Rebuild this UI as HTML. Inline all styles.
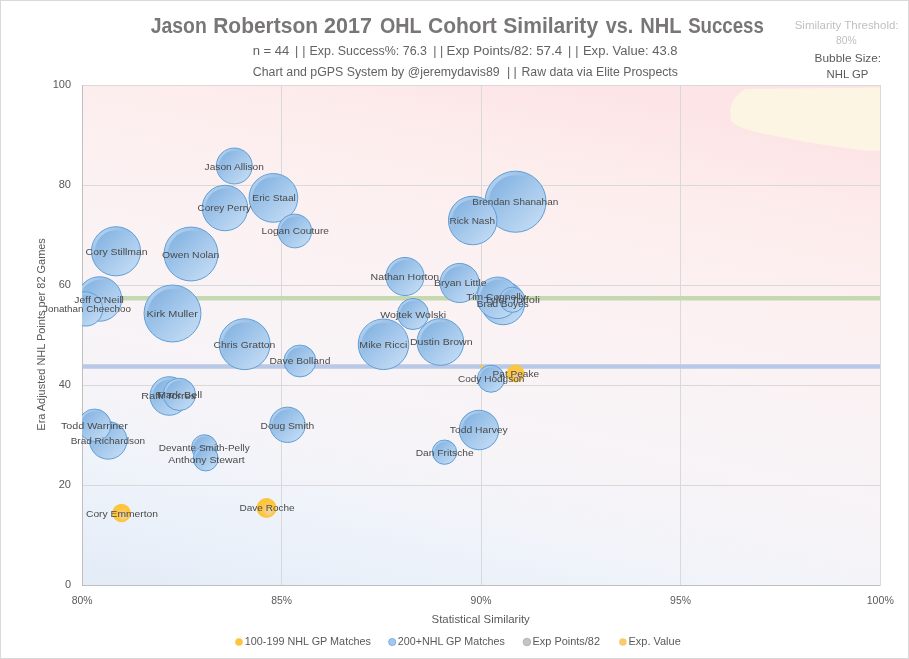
<!DOCTYPE html>
<html><head><meta charset="utf-8"><style>
html,body{margin:0;padding:0;background:#fff;}
svg{display:block;}
text{font-family:"Liberation Sans", Arial, sans-serif;}
</style></head><body>
<svg width="909" height="659" viewBox="0 0 909 659">
<defs>
<linearGradient id="bg" gradientUnits="userSpaceOnUse" x1="880" y1="85" x2="741.1" y2="713.3">
<stop offset="0.0000" stop-color="#fde2e4"/>
<stop offset="0.1071" stop-color="#fde5e7"/>
<stop offset="0.2411" stop-color="#fdeded"/>
<stop offset="0.4018" stop-color="#fcf1f2"/>
<stop offset="0.5536" stop-color="#f9f3f5"/>
<stop offset="0.7143" stop-color="#f6f4f8"/>
<stop offset="0.8304" stop-color="#eff3fa"/>
<stop offset="0.9375" stop-color="#e9f0f9"/>
<stop offset="1.0000" stop-color="#e4ecf8"/>
</linearGradient>
<linearGradient id="bub" x1="0.15" y1="0.15" x2="0.85" y2="0.85">
<stop offset="0" stop-color="#84b3e1"/>
<stop offset="0.5" stop-color="#a3c7eb"/>
<stop offset="1" stop-color="#bfd9f3"/>
</linearGradient>
<linearGradient id="rim" x1="0.1" y1="0.1" x2="0.6" y2="0.6">
<stop offset="0" stop-color="#c2daf3" stop-opacity="0.8"/>
<stop offset="0.55" stop-color="#c2daf3" stop-opacity="0"/>
</linearGradient>
<radialGradient id="yel" cx="0.5" cy="0.5" r="0.5" fx="0.68" fy="0.74">
<stop offset="0" stop-color="#f3d39e"/>
<stop offset="0.35" stop-color="#f6cd7e"/>
<stop offset="0.6" stop-color="#fbc746"/>
<stop offset="1" stop-color="#fdc535"/>
</radialGradient>
<filter id="soft" x="-10%" y="-10%" width="120%" height="120%"><feGaussianBlur stdDeviation="0.6"/></filter>
<clipPath id="plot"><rect x="82" y="85" width="798" height="500"/></clipPath>
</defs>
<rect x="0.5" y="0.5" width="908" height="658" fill="#fff" stroke="#d9d9d9" stroke-width="1"/>

<rect x="82" y="85" width="798" height="500" fill="url(#bg)"/>
<path d="M745,89 L880,87.5 L880,150.5 L872,151 L867,150.7 L846,148 L825,145 L805,141.7 L784,137.5 L769,134.8 L749,130.2 L737,125.5 L731,121 L730.3,111 Q731,99 741.8,91.2 Z" fill="#fdf5e3"/>
<line x1="281.5" y1="85" x2="281.5" y2="585" stroke="#d9d9d9" stroke-width="1"/>
<line x1="481.5" y1="85" x2="481.5" y2="585" stroke="#d9d9d9" stroke-width="1"/>
<line x1="680.5" y1="85" x2="680.5" y2="585" stroke="#d9d9d9" stroke-width="1"/>
<line x1="880.5" y1="85" x2="880.5" y2="585" stroke="#d9d9d9" stroke-width="1"/>
<line x1="82" y1="85.5" x2="880" y2="85.5" stroke="#d9d9d9" stroke-width="1"/>
<line x1="82" y1="185.5" x2="880" y2="185.5" stroke="#d9d9d9" stroke-width="1"/>
<line x1="82" y1="285.5" x2="880" y2="285.5" stroke="#d9d9d9" stroke-width="1"/>
<line x1="82" y1="385.5" x2="880" y2="385.5" stroke="#d9d9d9" stroke-width="1"/>
<line x1="82" y1="485.5" x2="880" y2="485.5" stroke="#d9d9d9" stroke-width="1"/>
<line x1="82.5" y1="85" x2="82.5" y2="585.5" stroke="#bfbfbf" stroke-width="1"/>
<line x1="82" y1="585.5" x2="880.5" y2="585.5" stroke="#bfbfbf" stroke-width="1"/>
<line x1="83" y1="298.3" x2="880" y2="298.3" stroke="#c5d9b1" stroke-width="4.5"/>
<line x1="83" y1="366.4" x2="880" y2="366.4" stroke="#b8c8e6" stroke-width="4.5"/>
<g clip-path="url(#plot)">
<circle cx="99.5" cy="299.0" r="22.25" fill="url(#bub)" stroke="#5f9ed7" stroke-width="1"/>
<circle cx="99.5" cy="299.0" r="20.35" fill="none" stroke="url(#rim)" stroke-width="2.70" filter="url(#soft)"/>
<circle cx="85.7" cy="309.0" r="17.05" fill="url(#bub)" stroke="#5f9ed7" stroke-width="1"/>
<circle cx="85.7" cy="309.0" r="15.46" fill="none" stroke="url(#rim)" stroke-width="2.08" filter="url(#soft)"/>
<circle cx="116.0" cy="251.3" r="24.55" fill="url(#bub)" stroke="#5f9ed7" stroke-width="1"/>
<circle cx="116.0" cy="251.3" r="22.51" fill="none" stroke="url(#rim)" stroke-width="2.98" filter="url(#soft)"/>
<circle cx="191.0" cy="254.0" r="26.95" fill="url(#bub)" stroke="#5f9ed7" stroke-width="1"/>
<circle cx="191.0" cy="254.0" r="24.77" fill="none" stroke="url(#rim)" stroke-width="3.26" filter="url(#soft)"/>
<circle cx="172.5" cy="313.5" r="28.45" fill="url(#bub)" stroke="#5f9ed7" stroke-width="1"/>
<circle cx="172.5" cy="313.5" r="26.18" fill="none" stroke="url(#rim)" stroke-width="3.44" filter="url(#soft)"/>
<circle cx="234.3" cy="166.0" r="17.95" fill="url(#bub)" stroke="#5f9ed7" stroke-width="1"/>
<circle cx="234.3" cy="166.0" r="16.31" fill="none" stroke="url(#rim)" stroke-width="2.18" filter="url(#soft)"/>
<circle cx="225.0" cy="208.0" r="22.75" fill="url(#bub)" stroke="#5f9ed7" stroke-width="1"/>
<circle cx="225.0" cy="208.0" r="20.82" fill="none" stroke="url(#rim)" stroke-width="2.76" filter="url(#soft)"/>
<circle cx="273.4" cy="197.9" r="24.35" fill="url(#bub)" stroke="#5f9ed7" stroke-width="1"/>
<circle cx="273.4" cy="197.9" r="22.32" fill="none" stroke="url(#rim)" stroke-width="2.95" filter="url(#soft)"/>
<circle cx="294.8" cy="231.0" r="16.85" fill="url(#bub)" stroke="#5f9ed7" stroke-width="1"/>
<circle cx="294.8" cy="231.0" r="15.27" fill="none" stroke="url(#rim)" stroke-width="2.05" filter="url(#soft)"/>
<circle cx="244.6" cy="344.2" r="25.45" fill="url(#bub)" stroke="#5f9ed7" stroke-width="1"/>
<circle cx="244.6" cy="344.2" r="23.36" fill="none" stroke="url(#rim)" stroke-width="3.08" filter="url(#soft)"/>
<circle cx="299.9" cy="361.0" r="15.95" fill="url(#bub)" stroke="#5f9ed7" stroke-width="1"/>
<circle cx="299.9" cy="361.0" r="14.43" fill="none" stroke="url(#rim)" stroke-width="1.94" filter="url(#soft)"/>
<circle cx="169.2" cy="396.0" r="19.25" fill="url(#bub)" stroke="#5f9ed7" stroke-width="1"/>
<circle cx="169.2" cy="396.0" r="17.53" fill="none" stroke="url(#rim)" stroke-width="2.34" filter="url(#soft)"/>
<circle cx="179.4" cy="394.4" r="16.15" fill="url(#bub)" stroke="#5f9ed7" stroke-width="1"/>
<circle cx="179.4" cy="394.4" r="14.62" fill="none" stroke="url(#rim)" stroke-width="1.97" filter="url(#soft)"/>
<circle cx="287.5" cy="424.8" r="17.65" fill="url(#bub)" stroke="#5f9ed7" stroke-width="1"/>
<circle cx="287.5" cy="424.8" r="16.03" fill="none" stroke="url(#rim)" stroke-width="2.15" filter="url(#soft)"/>
<circle cx="108.2" cy="440.4" r="18.75" fill="url(#bub)" stroke="#5f9ed7" stroke-width="1"/>
<circle cx="108.2" cy="440.4" r="17.06" fill="none" stroke="url(#rim)" stroke-width="2.28" filter="url(#soft)"/>
<circle cx="94.6" cy="425.3" r="16.25" fill="url(#bub)" stroke="#5f9ed7" stroke-width="1"/>
<circle cx="94.6" cy="425.3" r="14.71" fill="none" stroke="url(#rim)" stroke-width="1.98" filter="url(#soft)"/>
<circle cx="204.4" cy="447.5" r="12.75" fill="url(#bub)" stroke="#5f9ed7" stroke-width="1"/>
<circle cx="204.4" cy="447.5" r="11.42" fill="none" stroke="url(#rim)" stroke-width="1.56" filter="url(#soft)"/>
<circle cx="205.7" cy="458.5" r="12.45" fill="url(#bub)" stroke="#5f9ed7" stroke-width="1"/>
<circle cx="205.7" cy="458.5" r="11.14" fill="none" stroke="url(#rim)" stroke-width="1.52" filter="url(#soft)"/>
<circle cx="121.5" cy="513.0" r="9.2" fill="url(#yel)"/>
<circle cx="266.5" cy="508.0" r="10.0" fill="url(#yel)"/>
<circle cx="405.0" cy="276.5" r="19.05" fill="url(#bub)" stroke="#5f9ed7" stroke-width="1"/>
<circle cx="405.0" cy="276.5" r="17.34" fill="none" stroke="url(#rim)" stroke-width="2.32" filter="url(#soft)"/>
<circle cx="459.6" cy="283.0" r="19.55" fill="url(#bub)" stroke="#5f9ed7" stroke-width="1"/>
<circle cx="459.6" cy="283.0" r="17.81" fill="none" stroke="url(#rim)" stroke-width="2.38" filter="url(#soft)"/>
<circle cx="413.0" cy="314.0" r="15.55" fill="url(#bub)" stroke="#5f9ed7" stroke-width="1"/>
<circle cx="413.0" cy="314.0" r="14.05" fill="none" stroke="url(#rim)" stroke-width="1.90" filter="url(#soft)"/>
<circle cx="383.5" cy="344.3" r="25.25" fill="url(#bub)" stroke="#5f9ed7" stroke-width="1"/>
<circle cx="383.5" cy="344.3" r="23.17" fill="none" stroke="url(#rim)" stroke-width="3.06" filter="url(#soft)"/>
<circle cx="440.4" cy="342.0" r="23.35" fill="url(#bub)" stroke="#5f9ed7" stroke-width="1"/>
<circle cx="440.4" cy="342.0" r="21.38" fill="none" stroke="url(#rim)" stroke-width="2.83" filter="url(#soft)"/>
<circle cx="515.5" cy="201.7" r="30.55" fill="url(#bub)" stroke="#5f9ed7" stroke-width="1"/>
<circle cx="515.5" cy="201.7" r="28.20" fill="none" stroke="url(#rim)" stroke-width="3.60" filter="url(#soft)"/>
<circle cx="472.7" cy="220.5" r="24.25" fill="url(#bub)" stroke="#5f9ed7" stroke-width="1"/>
<circle cx="472.7" cy="220.5" r="22.23" fill="none" stroke="url(#rim)" stroke-width="2.94" filter="url(#soft)"/>
<circle cx="503.0" cy="303.0" r="21.75" fill="url(#bub)" stroke="#5f9ed7" stroke-width="1"/>
<circle cx="503.0" cy="303.0" r="19.88" fill="none" stroke="url(#rim)" stroke-width="2.64" filter="url(#soft)"/>
<circle cx="497.7" cy="297.8" r="20.75" fill="url(#bub)" stroke="#5f9ed7" stroke-width="1"/>
<circle cx="497.7" cy="297.8" r="18.94" fill="none" stroke="url(#rim)" stroke-width="2.52" filter="url(#soft)"/>
<circle cx="512.3" cy="299.8" r="12.55" fill="url(#bub)" stroke="#5f9ed7" stroke-width="1"/>
<circle cx="512.3" cy="299.8" r="11.23" fill="none" stroke="url(#rim)" stroke-width="1.54" filter="url(#soft)"/>
<circle cx="479.0" cy="430.0" r="19.75" fill="url(#bub)" stroke="#5f9ed7" stroke-width="1"/>
<circle cx="479.0" cy="430.0" r="18.00" fill="none" stroke="url(#rim)" stroke-width="2.40" filter="url(#soft)"/>
<circle cx="444.5" cy="452.2" r="12.15" fill="url(#bub)" stroke="#5f9ed7" stroke-width="1"/>
<circle cx="444.5" cy="452.2" r="10.86" fill="none" stroke="url(#rim)" stroke-width="1.49" filter="url(#soft)"/>
<circle cx="491.0" cy="378.7" r="13.55" fill="url(#bub)" stroke="#5f9ed7" stroke-width="1"/>
<circle cx="491.0" cy="378.7" r="12.17" fill="none" stroke="url(#rim)" stroke-width="1.66" filter="url(#soft)"/>
<circle cx="515.6" cy="373.5" r="9.0" fill="url(#yel)"/>
<circle cx="481.4" cy="366.5" r="1.6" fill="#fcc53e"/>
</g>
<text x="74.39" y="303.1" font-size="9.3" fill="#4a4a4a" textLength="49.55" lengthAdjust="spacingAndGlyphs">Jeff O&#39;Neill</text>
<text x="43.05" y="312.0" font-size="9.3" fill="#4a4a4a" textLength="87.97" lengthAdjust="spacingAndGlyphs">Jonathan Cheechoo</text>
<text x="85.62" y="255.3" font-size="9.3" fill="#4a4a4a" textLength="61.90" lengthAdjust="spacingAndGlyphs">Cory Stillman</text>
<text x="162.06" y="258.4" font-size="9.3" fill="#4a4a4a" textLength="57.27" lengthAdjust="spacingAndGlyphs">Owen Nolan</text>
<text x="146.51" y="316.8" font-size="9.3" fill="#4a4a4a" textLength="51.48" lengthAdjust="spacingAndGlyphs">Kirk Muller</text>
<text x="204.59" y="170.3" font-size="9.3" fill="#4a4a4a" textLength="59.31" lengthAdjust="spacingAndGlyphs">Jason Allison</text>
<text x="197.49" y="211.3" font-size="9.3" fill="#4a4a4a" textLength="53.53" lengthAdjust="spacingAndGlyphs">Corey Perry</text>
<text x="252.37" y="201.1" font-size="9.3" fill="#4a4a4a" textLength="43.51" lengthAdjust="spacingAndGlyphs">Eric Staal</text>
<text x="261.56" y="234.4" font-size="9.3" fill="#4a4a4a" textLength="67.49" lengthAdjust="spacingAndGlyphs">Logan Couture</text>
<text x="213.52" y="348.0" font-size="9.3" fill="#4a4a4a" textLength="61.90" lengthAdjust="spacingAndGlyphs">Chris Gratton</text>
<text x="269.41" y="363.8" font-size="9.3" fill="#4a4a4a" textLength="61.00" lengthAdjust="spacingAndGlyphs">Dave Bolland</text>
<text x="141.39" y="399.0" font-size="9.3" fill="#4a4a4a" textLength="54.74" lengthAdjust="spacingAndGlyphs">Raffi Torres</text>
<text x="156.91" y="397.8" font-size="9.3" fill="#4a4a4a" textLength="45.22" lengthAdjust="spacingAndGlyphs">Mark Bell</text>
<text x="260.61" y="429.3" font-size="9.3" fill="#4a4a4a" textLength="53.61" lengthAdjust="spacingAndGlyphs">Doug Smith</text>
<text x="70.68" y="444.0" font-size="9.3" fill="#4a4a4a" textLength="74.47" lengthAdjust="spacingAndGlyphs">Brad Richardson</text>
<text x="60.97" y="429.0" font-size="9.3" fill="#4a4a4a" textLength="66.81" lengthAdjust="spacingAndGlyphs">Todd Warriner</text>
<text x="158.68" y="451.0" font-size="9.3" fill="#4a4a4a" textLength="91.04" lengthAdjust="spacingAndGlyphs">Devante Smith-Pelly</text>
<text x="168.28" y="463.1" font-size="9.3" fill="#4a4a4a" textLength="76.50" lengthAdjust="spacingAndGlyphs">Anthony Stewart</text>
<text x="85.98" y="517.0" font-size="9.3" fill="#4a4a4a" textLength="71.99" lengthAdjust="spacingAndGlyphs">Cory Emmerton</text>
<text x="239.53" y="511.2" font-size="9.3" fill="#4a4a4a" textLength="55.17" lengthAdjust="spacingAndGlyphs">Dave Roche</text>
<text x="370.58" y="280.1" font-size="9.3" fill="#4a4a4a" textLength="68.65" lengthAdjust="spacingAndGlyphs">Nathan Horton</text>
<text x="433.94" y="286.0" font-size="9.3" fill="#4a4a4a" textLength="52.73" lengthAdjust="spacingAndGlyphs">Bryan Little</text>
<text x="380.30" y="317.7" font-size="9.3" fill="#4a4a4a" textLength="65.85" lengthAdjust="spacingAndGlyphs">Wojtek Wolski</text>
<text x="359.38" y="347.8" font-size="9.3" fill="#4a4a4a" textLength="48.08" lengthAdjust="spacingAndGlyphs">Mike Ricci</text>
<text x="409.94" y="345.1" font-size="9.3" fill="#4a4a4a" textLength="62.55" lengthAdjust="spacingAndGlyphs">Dustin Brown</text>
<text x="472.38" y="205.3" font-size="9.3" fill="#4a4a4a" textLength="85.86" lengthAdjust="spacingAndGlyphs">Brendan Shanahan</text>
<text x="449.43" y="223.9" font-size="9.3" fill="#4a4a4a" textLength="45.57" lengthAdjust="spacingAndGlyphs">Rick Nash</text>
<text x="476.88" y="306.7" font-size="9.3" fill="#4a4a4a" textLength="51.78" lengthAdjust="spacingAndGlyphs">Brad Boyes</text>
<text x="466.37" y="300.4" font-size="9.3" fill="#4a4a4a" textLength="59.65" lengthAdjust="spacingAndGlyphs">Tim Connolly</text>
<text x="483.96" y="303.4" font-size="9.3" fill="#4a4a4a" textLength="55.96" lengthAdjust="spacingAndGlyphs">Tyler Toffoli</text>
<text x="449.87" y="433.1" font-size="9.3" fill="#4a4a4a" textLength="57.85" lengthAdjust="spacingAndGlyphs">Todd Harvey</text>
<text x="415.76" y="456.3" font-size="9.3" fill="#4a4a4a" textLength="57.89" lengthAdjust="spacingAndGlyphs">Dan Fritsche</text>
<text x="457.94" y="381.9" font-size="9.3" fill="#4a4a4a" textLength="66.46" lengthAdjust="spacingAndGlyphs">Cody Hodgson</text>
<text x="492.57" y="376.7" font-size="9.3" fill="#4a4a4a" textLength="46.47" lengthAdjust="spacingAndGlyphs">Pat Peake</text>
<text x="71" y="87.7" font-size="11" fill="#595959" text-anchor="end">100</text>
<text x="71" y="187.7" font-size="11" fill="#595959" text-anchor="end">80</text>
<text x="71" y="287.7" font-size="11" fill="#595959" text-anchor="end">60</text>
<text x="71" y="387.7" font-size="11" fill="#595959" text-anchor="end">40</text>
<text x="71" y="487.7" font-size="11" fill="#595959" text-anchor="end">20</text>
<text x="71" y="587.7" font-size="11" fill="#595959" text-anchor="end">0</text>
<text x="71.65" y="603.8" font-size="11" fill="#595959" textLength="20.82" lengthAdjust="spacingAndGlyphs">80%</text>
<text x="271.15" y="603.8" font-size="11" fill="#595959" textLength="20.82" lengthAdjust="spacingAndGlyphs">85%</text>
<text x="470.61" y="603.8" font-size="11" fill="#595959" textLength="20.86" lengthAdjust="spacingAndGlyphs">90%</text>
<text x="670.11" y="603.8" font-size="11" fill="#595959" textLength="20.86" lengthAdjust="spacingAndGlyphs">95%</text>
<text x="866.74" y="603.8" font-size="11" fill="#595959" textLength="27.08" lengthAdjust="spacingAndGlyphs">100%</text>
<text x="431.58" y="622.8" font-size="11.4" fill="#595959" textLength="98.24" lengthAdjust="spacingAndGlyphs">Statistical Similarity</text>
<text transform="translate(44.5,429.8) rotate(-90)" x="-0.89" y="0" font-size="11" fill="#595959" textLength="192.49" lengthAdjust="spacingAndGlyphs">Era Adjusted NHL Points per 82 Games</text>
<text x="150.71" y="32.7" font-size="21.6" font-weight="bold" fill="#787676" textLength="56.10" lengthAdjust="spacingAndGlyphs">Jason</text>
<text x="213.20" y="32.7" font-size="21.6" font-weight="bold" fill="#787676" textLength="104.80" lengthAdjust="spacingAndGlyphs">Robertson</text>
<text x="324.05" y="32.7" font-size="21.6" font-weight="bold" fill="#787676" textLength="47.89" lengthAdjust="spacingAndGlyphs">2017</text>
<text x="379.89" y="32.7" font-size="21.6" font-weight="bold" fill="#787676" textLength="41.62" lengthAdjust="spacingAndGlyphs">OHL</text>
<text x="427.94" y="32.7" font-size="21.6" font-weight="bold" fill="#787676" textLength="68.92" lengthAdjust="spacingAndGlyphs">Cohort</text>
<text x="503.29" y="32.7" font-size="21.6" font-weight="bold" fill="#787676" textLength="94.82" lengthAdjust="spacingAndGlyphs">Similarity</text>
<text x="605.82" y="32.7" font-size="21.6" font-weight="bold" fill="#787676" textLength="27.44" lengthAdjust="spacingAndGlyphs">vs.</text>
<text x="640.25" y="32.7" font-size="21.6" font-weight="bold" fill="#787676" textLength="41.37" lengthAdjust="spacingAndGlyphs">NHL</text>
<text x="688.16" y="32.7" font-size="21.6" font-weight="bold" fill="#787676" textLength="75.70" lengthAdjust="spacingAndGlyphs">Success</text>
<text x="252.73" y="55" font-size="12.5" fill="#626262" textLength="36.65" lengthAdjust="spacingAndGlyphs">n = 44</text>
<text x="295.1 302.2" y="55" font-size="12.5" fill="#626262">||</text>
<text x="309.48" y="55" font-size="12.5" fill="#626262" textLength="117.47" lengthAdjust="spacingAndGlyphs">Exp. Success%: 76.3</text>
<text x="433.2 440.1" y="55" font-size="12.5" fill="#626262">||</text>
<text x="446.51" y="55" font-size="12.5" fill="#626262" textLength="115.58" lengthAdjust="spacingAndGlyphs">Exp Points/82: 57.4</text>
<text x="568.1 575.3" y="55" font-size="12.5" fill="#626262">||</text>
<text x="582.94" y="55" font-size="12.5" fill="#626262" textLength="94.62" lengthAdjust="spacingAndGlyphs">Exp. Value: 43.8</text>
<text x="252.77" y="76" font-size="12.5" fill="#626262" textLength="246.91" lengthAdjust="spacingAndGlyphs">Chart and pGPS System by @jeremydavis89</text>
<text x="506.9 513.5" y="76" font-size="12.5" fill="#626262">||</text>
<text x="521.49" y="76" font-size="12.5" fill="#626262" textLength="156.45" lengthAdjust="spacingAndGlyphs">Raw data via Elite Prospects</text>
<text x="794.68" y="28.5" font-size="10" fill="#bfbfbf" textLength="103.87" lengthAdjust="spacingAndGlyphs">Similarity Threshold:</text>
<text x="836.05" y="43.7" font-size="10" fill="#bfbfbf" textLength="20.61" lengthAdjust="spacingAndGlyphs">80%</text>
<text x="814.63" y="61.5" font-size="11" fill="#595959" textLength="66.45" lengthAdjust="spacingAndGlyphs">Bubble Size:</text>
<text x="826.58" y="78" font-size="11" fill="#595959" textLength="41.81" lengthAdjust="spacingAndGlyphs">NHL GP</text>
<circle cx="239" cy="642" r="3.8" fill="#fcc53e"/>
<text x="244.78" y="644.6" font-size="11" fill="#595959" textLength="126.21" lengthAdjust="spacingAndGlyphs">100-199 NHL GP Matches</text>
<circle cx="392.2" cy="642" r="3.6" fill="#a6c8ec" stroke="#6aa5dc" stroke-width="0.8"/>
<text x="397.86" y="644.6" font-size="11" fill="#595959" textLength="106.92" lengthAdjust="spacingAndGlyphs">200+NHL GP Matches</text>
<circle cx="526.9" cy="642" r="3.8" fill="#c4c4c4" stroke="#adadad" stroke-width="0.8"/>
<text x="532.50" y="644.6" font-size="11" fill="#595959" textLength="67.55" lengthAdjust="spacingAndGlyphs">Exp Points/82</text>
<circle cx="622.9" cy="642" r="3.8" fill="#fbc96e"/>
<text x="628.51" y="644.6" font-size="11" fill="#595959" textLength="52.27" lengthAdjust="spacingAndGlyphs">Exp. Value</text>
</svg></body></html>
